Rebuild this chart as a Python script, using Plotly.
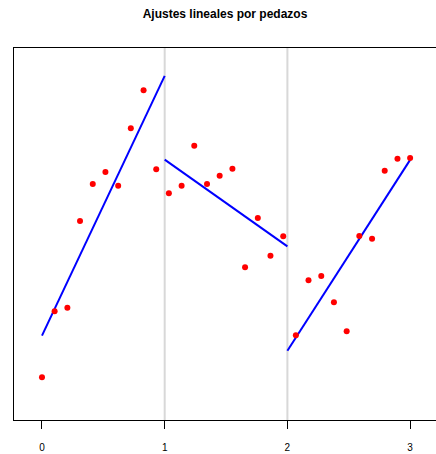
import numpy as np
import plotly.graph_objects as go

# Observations: 30 equally spaced x values between 0 and 3
x_vals = [0.000, 0.103, 0.207, 0.310, 0.414, 0.517, 0.621, 0.724, 0.828, 0.931,
          1.034, 1.138, 1.241, 1.345, 1.448, 1.552, 1.655, 1.759, 1.862, 1.966,
          2.069, 2.172, 2.276, 2.379, 2.483, 2.586, 2.690, 2.793, 2.897, 3.000]
y_vals = [1.148, 2.922, 3.019, 5.349, 6.344, 6.667, 6.298, 7.841, 8.863, 6.739,
          6.094, 6.298, 7.374, 6.344, 6.567, 6.755, 4.105, 5.430, 4.417, 4.938,
          2.277, 3.755, 3.871, 3.164, 2.384, 4.946, 4.874, 6.702, 7.024, 7.043]

# Breakpoints separating the pieces
breaks = [0, 1, 2, 3]
tick_vals = [0, 1, 2, 3]
tick_text = ["0", "1", "2", "3"]

x_arr = np.array(x_vals)
y_arr = np.array(y_vals)

fig = go.Figure()

# Vertical guides at the interior breakpoints
for b in breaks[1:-1]:
    fig.add_vline(x=b, line=dict(color="#d8d8d8", width=2), layer="below")

# Least-squares line for each piece, drawn across its interval
for lo, hi in zip(breaks[:-1], breaks[1:]):
    mask = (x_arr >= lo) & (x_arr < hi) if hi < breaks[-1] else (x_arr >= lo)
    slope, intercept = np.polyfit(x_arr[mask], y_arr[mask], 1)
    xs = [lo, hi]
    ys = [intercept + slope * lo, intercept + slope * hi]
    fig.add_trace(go.Scatter(x=xs, y=ys, mode="lines",
                             line=dict(color="#0000ff", width=2),
                             showlegend=False, hoverinfo="skip"))

fig.add_trace(go.Scatter(x=x_vals, y=y_vals, mode="markers",
                         marker=dict(color="#ff0000", size=6, line=dict(width=0)),
                         showlegend=False))

fig.update_layout(
    width=436, height=454,
    margin=dict(l=14, r=0, t=48, b=34),
    paper_bgcolor="white", plot_bgcolor="white",
    font=dict(family="Liberation Sans, Arial, sans-serif", color="black", size=10),
    title=dict(text="<b>Ajustes lineales por pedazos</b>",
               x=0.5, xref="paper", xanchor="center",
               y=1 - 14 / 454, yref="container", yanchor="middle",
               font=dict(size=12, color="black")),
    xaxis=dict(range=[-0.228, 3.211], tickvals=tick_vals, ticktext=tick_text,
               ticks="outside", ticklen=8, tickcolor="black", tickwidth=1,
               ticklabelstandoff=10,
               showline=True, linecolor="black", linewidth=1, mirror=True,
               showgrid=False, zeroline=False, tickfont=dict(size=10)),
    yaxis=dict(range=[0, 10], showticklabels=False, ticks="",
               showline=True, linecolor="black", linewidth=1, mirror=False,
               showgrid=False, zeroline=False),
)

fig.write_html("out.html")
